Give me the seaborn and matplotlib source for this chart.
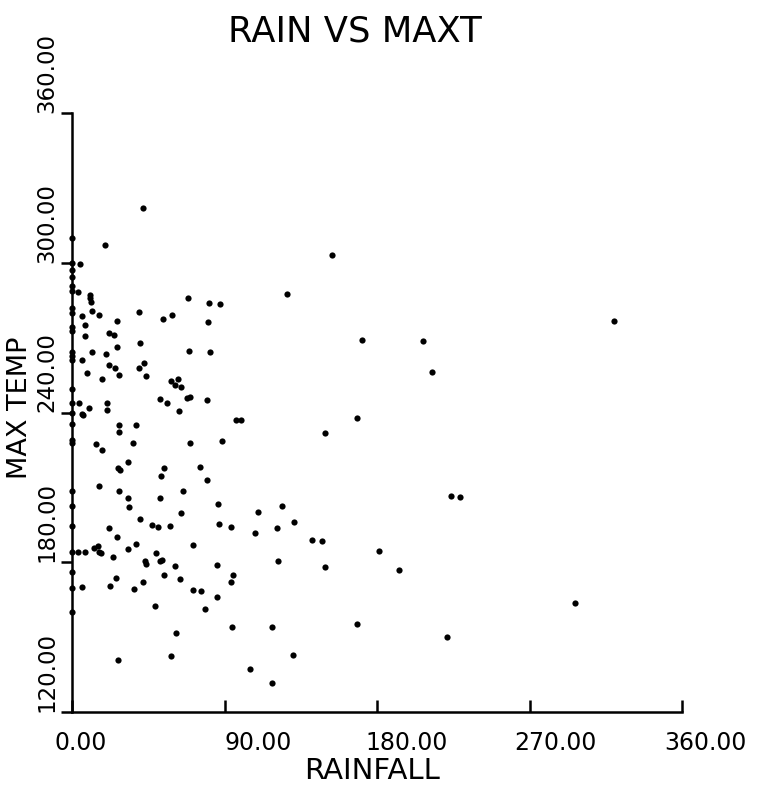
import matplotlib
matplotlib.use("Agg")
import matplotlib.pyplot as plt
import matplotlib.transforms as mtransforms
import seaborn as sns
import pandas as pd

# ---- data ----
rain_zero_temps = [310.1, 299.9, 297.0, 294.1, 290.8, 288.5, 282.0, 280.0, 274.1,
                   272.8, 264.1, 262.5, 261.0, 249.5, 243.7, 239.9, 235.5, 228.8,
                   227.6, 208.4, 202.4, 194.4, 184.1, 176.1, 169.5, 160.1]

rainfall = [
    19.5, 4.7, 3.7, 10.6, 10.6, 11.0, 68.4, 81.0, 87.5, 11.8, 16.1, 5.9, 39.4, 26.8,
    53.9, 58.8, 80.1, 7.9, 7.9, 21.8, 24.8, 26.8, 40.1, 11.8, 19.9, 5.9, 22.0, 25.4,
    39.7, 42.3, 8.9, 27.6, 43.5, 17.7, 69.2, 81.6, 58.6, 62.4, 60.6, 64.3,
    4.3, 10.2, 6.1, 6.7, 20.7, 20.7, 51.9, 56.3, 67.7, 69.7, 79.7, 63.4, 96.6, 27.7,
    37.8, 27.7, 14.0, 36.0, 69.8, 88.7, 17.9, 33.1, 27.3, 28.3, 54.5, 75.6, 52.4,
    79.9, 15.9, 27.6, 65.7, 33.2, 51.8, 33.6, 86.0, 64.3, 40.1, 47.2, 50.8, 57.7,
    86.6, 93.7, 22.0, 26.8,
    3.7, 7.7, 13.2, 15.5, 15.9, 16.9, 24.2, 32.9, 37.8, 49.6, 51.9, 53.0, 43.3, 43.5,
    60.8, 71.4, 85.8, 94.9, 93.7, 26.0, 22.6, 41.7, 54.5, 63.6, 36.6, 71.2, 76.2,
    85.8, 6.1, 49.0, 78.5, 94.5, 61.6, 58.3, 27.2,
    99.9, 168.2, 149.4, 123.8, 109.6, 131.0, 107.8, 120.8, 141.5, 147.6, 181.4,
    193.0, 121.8, 149.5, 117.9, 168.1, 130.3, 104.9, 117.9,
    153.3, 171.4, 207.0, 212.3, 319.8, 223.7, 229.0, 297.1, 221.2, 41.9, 127.1,
]
max_temp = [
    307.2, 299.5, 288.1, 287.1, 286.0, 284.1, 285.7, 284.0, 283.5, 280.5, 279.0,
    278.5, 280.3, 276.7, 277.5, 279.0, 276.3, 275.1, 270.8, 272.0, 271.1, 266.4,
    268.0, 264.4, 263.3, 260.9, 259.2, 257.9, 258.0, 259.9, 256.0, 254.9, 254.5,
    253.3, 264.7, 264.1, 252.8, 253.5, 251.1, 250.3,
    243.7, 241.7, 239.5, 238.8, 243.7, 240.9, 245.6, 243.7, 245.9, 246.4, 245.1,
    240.8, 236.8, 234.8, 234.8, 232.3, 227.3, 227.6, 227.6, 228.4, 224.9, 220.3,
    217.9, 216.8, 217.9, 218.1, 214.4, 213.1, 210.5, 208.5, 208.5, 205.7, 205.9,
    202.0, 203.3, 199.9, 197.2, 195.1, 194.0, 194.7, 195.2, 194.1, 193.6, 190.3,
    184.1, 184.1, 185.6, 186.7, 184.1, 183.7, 182.0, 185.5, 187.2, 183.9, 180.4,
    181.1, 180.4, 179.1, 178.3, 186.8, 178.7, 174.8, 171.9, 173.7, 170.4, 172.0,
    174.9, 173.1, 169.1, 168.8, 168.3, 165.9, 170.0, 162.5, 161.2, 153.9, 151.5,
    142.4, 140.8,
    237.1, 237.9, 231.7, 202.7, 200.1, 196.3, 191.6, 193.9, 188.9, 188.7, 184.5,
    176.8, 180.5, 178.0, 153.9, 155.2, 142.8, 137.2, 131.5,
    303.2, 268.9, 268.5, 256.1, 276.7, 206.5, 206.1, 163.7, 149.9, 322.0, 287.3,
]

x_ticks = [0, 90, 180, 270, 360]
x_tick_labels = ["0.00", "90.00", "180.00", "270.00", "360.00"]
y_ticks = [120, 180, 240, 300, 360]
y_tick_labels = ["120.00", "180.00", "240.00", "300.00", "360.00"]

title = "RAIN VS MAXT"
x_title = "RAINFALL"
y_title = "MAX TEMP"

# ---- build table ----
df = pd.DataFrame({
    "RAINFALL": [0.0] * len(rain_zero_temps) + rainfall,
    "MAXT": rain_zero_temps + max_temp,
})

sns.set_style("ticks")
plt.rcParams["font.family"] = ["DejaVu Sans"]
plt.rcParams["text.color"] = "black"

fig = plt.figure(figsize=(7.65, 7.88), dpi=100)
ax = fig.add_axes([72 / 765, 76 / 788, 610 / 765, 599 / 788])

sns.scatterplot(data=df, x="RAINFALL", y="MAXT", color="black", s=20,
                linewidth=0, ax=ax, clip_on=False, legend=False)

ax.set_xlim(0, 360)
ax.set_ylim(120, 360)
ax.set_xlabel("")
ax.set_ylabel("")
for side in ["top", "right"]:
    ax.spines[side].set_visible(False)
for side in ["left", "bottom"]:
    ax.spines[side].set_linewidth(1.8)
    ax.spines[side].set_color("black")

ax.set_xticks(x_ticks, x_tick_labels)
ax.set_yticks(y_ticks, y_tick_labels)
ax.tick_params(axis="x", direction="in", length=9, width=1.8, labelsize=17, pad=14, colors="black")
ax.tick_params(axis="y", direction="out", length=8, width=1.8, labelsize=16.5, pad=2, colors="black")

# label placement similar to plotter output
x_offs_px = [-17, 0, -12, -15, -18]
for lab, dx in zip(ax.get_xticklabels(), x_offs_px):
    lab.set_horizontalalignment("left")
    lab.set_transform(lab.get_transform() + mtransforms.ScaledTranslation(dx / 100, 0, fig.dpi_scale_trans))
for lab in ax.get_yticklabels():
    lab.set_rotation(90)
    lab.set_verticalalignment("bottom")
    lab.set_horizontalalignment("right")

fig.text(355 / 765, 1 - 31 / 788, title, ha="center", va="center", fontsize=25.5)
fig.text(372 / 765, 1 - 757 / 788, x_title, ha="center", va="top", fontsize=21)
fig.text(20 / 765, 1 - 408 / 788, y_title, ha="center", va="center", rotation=90, fontsize=19.5)

fig.savefig("out.png", dpi=100, facecolor="white")
